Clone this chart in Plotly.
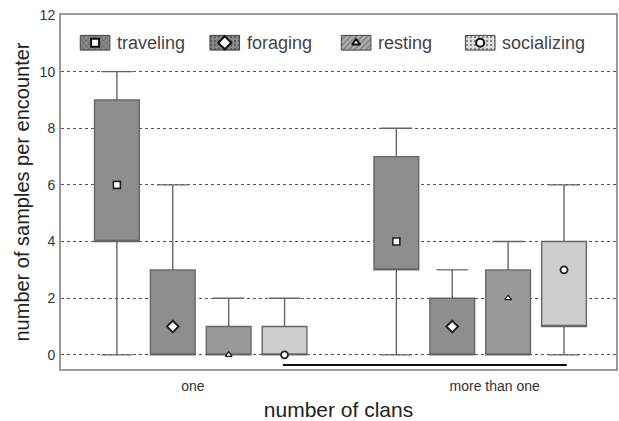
import plotly.graph_objects as go

# ---- data ----
behaviours = ["traveling", "foraging", "resting", "socializing"]
groups = ["one", "more than one"]

# box positions on a numeric axis (slot 5 left empty between the two groups)
positions = {"one": [1, 2, 3, 4], "more than one": [6, 7, 8, 9]}
group_label_pos = [2.36, 7.76]

q1 = {"one": [4, 0, 0, 0], "more than one": [3, 0, 0, 1]}
q3 = {"one": [9, 3, 1, 1], "more than one": [7, 2, 3, 4]}
median = {"one": [6, 1, 0, 0], "more than one": [4, 1, 2, 3]}
lower = {"one": [0, 0, 0, 0], "more than one": [0, 0, 0, 0]}
upper = {"one": [10, 6, 2, 2], "more than one": [8, 3, 4, 6]}

y_ticks = [0, 2, 4, 6, 8, 10, 12]

# ---- styles ----
fills = ["#8e8e8e", "#8e8e8e", "#9a9a9a", "#cdcdcd"]
icon_patterns = ["x", ".", "/", "."]
icon_fills = ["#8a8a8a", "#8a8a8a", "#b0b0b0", "#e0e0e0"]
symbols = ["square", "diamond", "triangle-up", "circle"]
msizes = [7, 9, 6, 7]
mline = [1.6, 2.0, 1.3, 1.8]
edge = "#666666"
FONT = "Arial, Liberation Sans, sans-serif"

fig = go.Figure()

for bi, b in enumerate(behaviours):
    xs = [positions[g][bi] for g in groups]
    fig.add_trace(go.Box(
        x=xs,
        q1=[q1[g][bi] for g in groups],
        # median line hidden on the lower box edge; the median is shown by a marker
        median=[q1[g][bi] for g in groups],
        q3=[q3[g][bi] for g in groups],
        lowerfence=[lower[g][bi] for g in groups],
        upperfence=[upper[g][bi] for g in groups],
        width=0.8, whiskerwidth=0.7,
        fillcolor=fills[bi],
        line=dict(color=edge, width=1.4),
        boxpoints=False, hoverinfo="skip",
        showlegend=False,
    ))
    fig.add_trace(go.Scatter(
        x=xs, y=[median[g][bi] for g in groups], mode="markers",
        marker=dict(symbol=symbols[bi], size=msizes[bi], color="white",
                    line=dict(color="#222", width=mline[bi])),
        showlegend=False, hoverinfo="skip",
    ))

# ---- manual legend (icons + labels) ----
legend_icon_x = [0.61, 2.93, 5.28, 7.50]
legend_y = 11.02
for bi, b in enumerate(behaviours):
    fig.add_trace(go.Bar(
        x=[legend_icon_x[bi]], y=[0.52], base=[legend_y - 0.26], width=[0.53],
        marker=dict(color=icon_fills[bi], line=dict(color="#444", width=1),
                    pattern=dict(shape=icon_patterns[bi], fgcolor="#333",
                                 bgcolor=icon_fills[bi], size=4, solidity=0.3)),
        showlegend=False, hoverinfo="skip",
    ))
    fig.add_trace(go.Scatter(
        x=[legend_icon_x[bi]], y=[legend_y], mode="markers",
        marker=dict(symbol=symbols[bi], size=msizes[bi] + 1, color="white",
                    line=dict(color="#111", width=2)),
        showlegend=False, hoverinfo="skip",
    ))
    fig.add_annotation(x=legend_icon_x[bi] + 0.36, y=legend_y, text=b,
                       showarrow=False, xanchor="left", yanchor="middle",
                       font=dict(family=FONT, size=18, color="#444"))

# significance line under the groups
sig_x = [3.97, 9.05]
sig_y = -0.36
fig.add_shape(type="line", x0=sig_x[0], x1=sig_x[1], y0=sig_y, y1=sig_y,
              line=dict(color="#111", width=2))

fig.update_layout(
    width=619, height=421,
    margin=dict(l=61, r=3, t=15, b=52),
    paper_bgcolor="white", plot_bgcolor="white",
    barmode="overlay",
    font=dict(family=FONT, color="#333"),
    xaxis=dict(range=[0, 9.93], tickmode="array", tickvals=group_label_pos,
               ticktext=groups, tickfont=dict(size=14, color="#333"),
               ticklabelstandoff=3,
               showgrid=False, zeroline=False, showline=True, mirror=True,
               linecolor="#9a9a9a", linewidth=2, ticks="", automargin=False,
               title=dict(text="number of clans", font=dict(size=21, color="#222"),
                          standoff=10)),
    yaxis=dict(range=[-0.5, 12], tickmode="array", tickvals=y_ticks,
               tickfont=dict(size=14, color="#333"), ticks="", ticklabelstandoff=1,
               showgrid=True, gridcolor="#555", griddash="dot", gridwidth=1,
               zeroline=False, showline=True, mirror=True, automargin=False,
               linecolor="#9a9a9a", linewidth=2,
               title=dict(text="number of samples per encounter",
                          font=dict(size=20, color="#222"), standoff=5)),
)

fig.write_html("out.html", config={"displayModeBar": False},
               post_script="document.body.style.margin='0';document.body.style.overflow='hidden';")
